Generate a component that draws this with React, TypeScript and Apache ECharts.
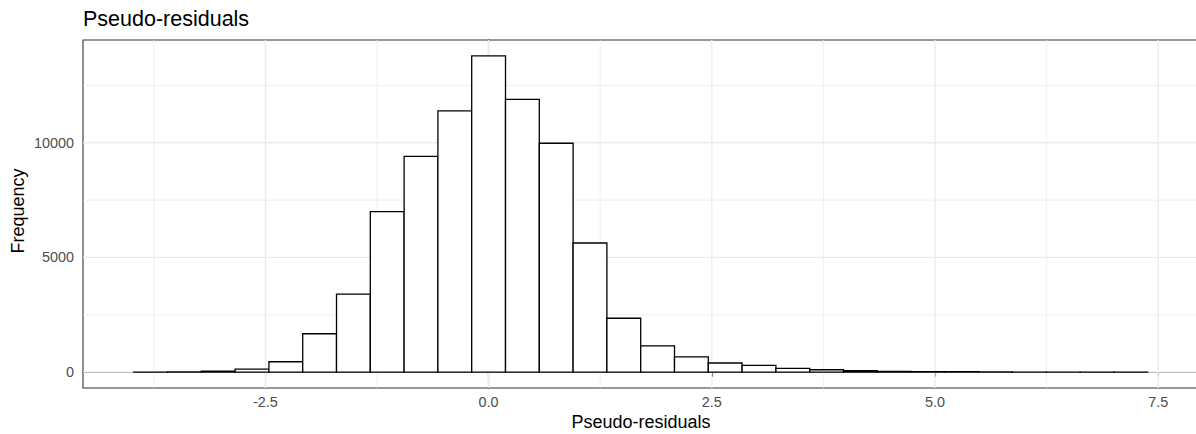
import React, { useEffect, useRef } from "react";
import * as echarts from "echarts";

// Histogram of pseudo-residuals: 30 equal-width bins
const binStart = -3.975;
const binWidth = 0.37857;
const counts = [
  2, 8, 40, 130, 455, 1675, 3405, 7000, 9410, 11390,
  13790, 11890, 9980, 5630, 2350, 1145, 670, 400, 295, 165,
  105, 62, 35, 25, 18, 8, 5, 3, 2, 1,
];

const xTicks = [-2.5, 0, 2.5, 5, 7.5];
const xMinor = [-3.75, -1.25, 1.25, 3.75, 6.25];
const yTicks = [0, 5000, 10000];
const yMinor = [2500, 7500, 12500];

const xMin = -4.543;
const xMax = 7.95;
const yMin = -689.5;
const yMax = 14479.5;

const FONT = "'Liberation Sans', Arial, sans-serif";

export default function App() {
  const ref = useRef<HTMLDivElement>(null);

  useEffect(() => {
    document.body.style.margin = "0";
    if (!ref.current) return;
    const chart = echarts.init(ref.current, undefined, { renderer: "svg" });

    const bins = counts.map((c, i) => [
      binStart + i * binWidth,
      binStart + (i + 1) * binWidth,
      c,
    ]);

    // [orientation (0 = vertical line, 1 = horizontal line), value, major flag]
    const gridLines = [
      ...xMinor.map((v) => [0, v, 0]),
      ...yMinor.map((v) => [1, v, 0]),
      ...xTicks.map((v) => [0, v, 1]),
      ...yTicks.map((v) => [1, v, 1]),
    ];

    chart.setOption({
      animation: false,
      backgroundColor: "#ffffff",
      textStyle: { fontFamily: FONT },
      grid: {
        left: 83,
        top: 40,
        width: 1115.4,
        height: 348,
        show: true,
        backgroundColor: "#ffffff",
        borderColor: "#333333",
        borderWidth: 1.1,
      },
      xAxis: {
        type: "value",
        min: xMin,
        max: xMax,
        axisLine: { show: true, lineStyle: { color: "#333333", width: 1.1 } },
        axisTick: {
          show: true,
          customValues: xTicks,
          length: 4.5,
          lineStyle: { color: "#333333", width: 1.1 },
        },
        axisLabel: {
          customValues: xTicks,
          formatter: (v: number) => v.toFixed(1),
          color: "#4D4D4D",
          fontSize: 14.4,
          fontFamily: FONT,
          margin: 7,
        },
        splitLine: { show: false },
      },
      yAxis: {
        type: "value",
        min: yMin,
        max: yMax,
        axisLine: { show: true, lineStyle: { color: "#333333", width: 1.1 } },
        axisTick: {
          show: true,
          customValues: yTicks,
          length: 4.5,
          lineStyle: { color: "#333333", width: 1.1 },
        },
        axisLabel: {
          customValues: yTicks,
          formatter: (v: number) => String(v),
          color: "#4D4D4D",
          fontSize: 14.4,
          fontFamily: FONT,
          margin: 9,
        },
        splitLine: { show: false },
      },
      graphic: [
        {
          type: "text",
          x: 83,
          y: 19.3,
          style: {
            text: "Pseudo-residuals",
            fontSize: 21.5,
            fontFamily: FONT,
            fill: "#000000",
            textAlign: "left",
            textVerticalAlign: "middle",
          },
        },
        {
          type: "text",
          x: 641,
          y: 422,
          style: {
            text: "Pseudo-residuals",
            fontSize: 18,
            fontFamily: FONT,
            fill: "#000000",
            textAlign: "center",
            textVerticalAlign: "middle",
          },
        },
        {
          type: "text",
          x: 18,
          y: 211,
          rotation: Math.PI / 2,
          style: {
            text: "Frequency",
            fontSize: 18,
            fontFamily: FONT,
            fill: "#000000",
            textAlign: "center",
            textVerticalAlign: "middle",
          },
        },
      ],
      series: [
        {
          type: "custom",
          z: 1,
          silent: true,
          data: gridLines,
          renderItem: (params: any, api: any) => {
            const cs = params.coordSys;
            const horizontal = api.value(0) === 1;
            const v = api.value(1);
            const major = api.value(2) === 1;
            const style = {
              stroke: "#EBEBEB",
              lineWidth: major ? 1.3 : 0.8,
              fill: null,
            };
            if (horizontal) {
              const y = api.coord([0, v])[1];
              return {
                type: "line",
                shape: { x1: cs.x, y1: y, x2: cs.x + cs.width, y2: y },
                style,
              };
            }
            const x = api.coord([v, 0])[0];
            return {
              type: "line",
              shape: { x1: x, y1: cs.y, x2: x, y2: cs.y + cs.height },
              style,
            };
          },
        },
        {
          type: "custom",
          z: 2,
          data: bins,
          encode: { x: [0, 1], y: 2 },
          renderItem: (_params: any, api: any) => {
            const top = api.coord([api.value(0), api.value(2)]);
            const bottom = api.coord([api.value(1), 0]);
            return {
              type: "rect",
              shape: {
                x: top[0],
                y: top[1],
                width: bottom[0] - top[0],
                height: bottom[1] - top[1],
              },
              style: { fill: "#ffffff", stroke: "#000000", lineWidth: 1.3 },
            };
          },
        },
      ],
    });

    return () => chart.dispose();
  }, []);

  // The plot panel runs slightly past the right edge of the visible area.
  return (
    <div style={{ width: 1196, height: 434, overflow: "hidden" }}>
      <div ref={ref} style={{ width: 1200, height: 434 }} />
    </div>
  );
}
